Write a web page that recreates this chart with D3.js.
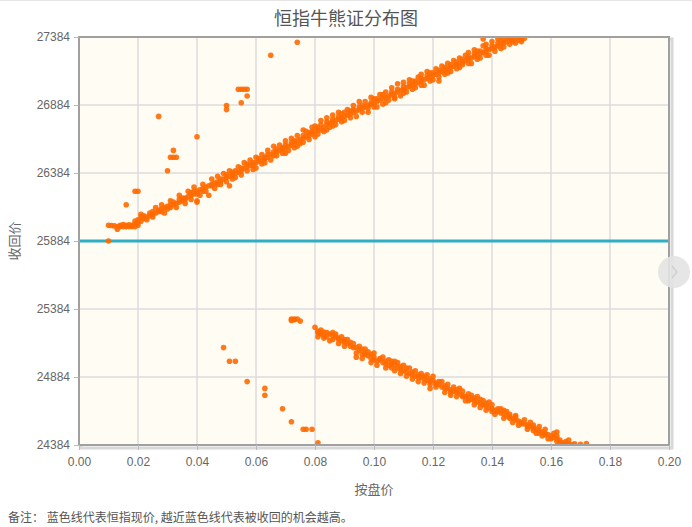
<!DOCTYPE html>
<html>
<head>
<meta charset="utf-8">
<script src="https://cdn.jsdelivr.net/npm/d3@7"></script>
<style>
  html, body { margin: 0; padding: 0; background: #ffffff; }
  svg { display: block; font-family: "Noto Sans CJK SC", "Noto Sans", sans-serif; }
</style>
</head>
<body>
<svg id="chart" width="692" height="527"></svg>
<script>
// ---- data ----
const title = "恒指牛熊证分布图";
const xLabel = "按盘价";
const yLabel = "收回价";
const note = "备注： 蓝色线代表恒指现价, 越近蓝色线代表被收回的机会越高。";
const xTicks = [0.00, 0.02, 0.04, 0.06, 0.08, 0.10, 0.12, 0.14, 0.16, 0.18, 0.20];
const yTicks = [24384, 24884, 25384, 25884, 26384, 26884, 27384];
const currentIndex = 25884;

// bull certificates [price, call level]
const bullPoints = [
  [0.010,25884],[0.010,26000],[0.011,25998],[0.016,26150],[0.019,26250],[0.020,26250],
  [0.027,26800],[0.030,26400],[0.031,26500],[0.032,26500],[0.033,26500],[0.032,26550],
  [0.040,26650],[0.050,26880],[0.050,26850],[0.054,27000],[0.055,27000],[0.056,27000],
  [0.057,27000],[0.055,26900],[0.057,26950],[0.065,27250],[0.074,27345],
  [0.013,25970],[0.013,25990],[0.014,25990],[0.014,26000],[0.015,25990],[0.016,25990],
  [0.016,26000],[0.017,25990],[0.018,25990],[0.018,26000],[0.019,25990],[0.019,26010],
  [0.012,25995],[0.015,26005],[0.017,26003],[0.019,26030],[0.020,26000],
  [0.020,26020],[0.020,26040],[0.021,26030],[0.021,26060],[0.022,26050],[0.022,26070],
  [0.023,26060],[0.024,26070],[0.024,26090],[0.025,26080],[0.025,26100],[0.026,26090],
  [0.027,26100],[0.027,26110],[0.028,26120],[0.028,26100],[0.029,26130],[0.030,26120],
  [0.030,26140],[0.031,26130],[0.031,26150],[0.032,26150],[0.032,26170],[0.033,26160],
  [0.034,26170],[0.034,26190],[0.035,26180],[0.035,26200],[0.036,26200],[0.036,26190],
  [0.037,26210],[0.038,26220],[0.038,26240],[0.039,26230],[0.039,26250],[0.040,26250],
  [0.040,26230],[0.040,26180],[0.040,26170],[0.041,26260],[0.042,26250],[0.042,26270],
  [0.043,26280],[0.044,26220],[0.044,26290],[0.045,26300],[0.045,26290],[0.046,26310],
  [0.047,26300],[0.047,26320],[0.048,26320],[0.048,26340],[0.049,26340],[0.050,26350],
  [0.050,26370],[0.051,26360],[0.051,26290],[0.052,26370],[0.052,26390],[0.052,26340],
  [0.053,26380],[0.053,26400],[0.054,26390],[0.055,26400],[0.055,26420],[0.056,26420],
  [0.057,26430],[0.057,26450],[0.058,26440],[0.059,26440],[0.059,26460],[0.060,26460],
  [0.060,26420],[0.061,26470],[0.061,26490],[0.062,26480],[0.063,26490],[0.063,26500],
  [0.064,26500],[0.064,26520],[0.065,26520],[0.066,26510],[0.066,26540],[0.067,26540],
  [0.067,26560],[0.068,26550],[0.069,26560],[0.069,26570],[0.070,26570],[0.070,26590],
  [0.070,26530],[0.071,26580],[0.072,26590],[0.072,26610],[0.073,26600],[0.073,26620],
  [0.074,26620],[0.074,26580],[0.075,26630],[0.076,26640],[0.076,26660],[0.076,26700],
  [0.077,26650],[0.078,26660],[0.078,26680],[0.079,26670],[0.079,26690],[0.080,26690],
  [0.081,26700],[0.081,26720],[0.082,26700],[0.082,26740],[0.083,26720],[0.084,26740],
  [0.084,26760],[0.084,26700],[0.085,26750],[0.086,26760],[0.086,26780],[0.086,26730],
  [0.087,26770],[0.088,26780],[0.088,26800],[0.089,26790],[0.089,26760],[0.090,26800],
  [0.090,26830],[0.091,26810],[0.092,26820],[0.092,26840],[0.093,26830],[0.093,26850],
  [0.094,26840],[0.095,26850],[0.095,26870],[0.096,26860],[0.096,26880],[0.097,26870],
  [0.098,26880],[0.098,26860],[0.099,26890],[0.099,26900],[0.100,26900],[0.100,26870],
  [0.101,26910],[0.101,26930],[0.102,26920],[0.103,26930],[0.103,26960],[0.104,26940],
  [0.104,26900],[0.105,26950],[0.106,26960],[0.106,26980],[0.107,26970],[0.107,26940],
  [0.108,26980],[0.108,27000],[0.109,26990],[0.110,27000],[0.110,27020],[0.110,26970],
  [0.111,27010],[0.112,27020],[0.112,27040],[0.113,27030],[0.113,27000],[0.114,27040],
  [0.114,27060],[0.115,27050],[0.116,27060],[0.116,27080],[0.116,27030],[0.117,27070],
  [0.118,27080],[0.118,27100],[0.119,27090],[0.119,27060],[0.120,27100],[0.120,27120],
  [0.121,27110],[0.122,27120],[0.122,27140],[0.122,27090],[0.123,27130],[0.124,27140],
  [0.124,27160],[0.125,27150],[0.125,27120],[0.126,27160],[0.126,27180],[0.127,27170],
  [0.128,27180],[0.128,27200],[0.129,27190],[0.129,27160],[0.130,27200],[0.130,27220],
  [0.131,27210],[0.132,27220],[0.132,27240],[0.132,27190],[0.133,27230],[0.134,27240],
  [0.134,27260],[0.135,27250],[0.135,27220],[0.136,27260],[0.136,27280],[0.137,27270],
  [0.137,27370],[0.138,27280],[0.138,27300],[0.138,27250],[0.139,27290],[0.140,27300],
  [0.140,27320],[0.141,27310],[0.142,27320],[0.142,27340],[0.143,27330],[0.143,27300],
  [0.144,27340],[0.144,27360],[0.145,27350],[0.146,27360],[0.146,27380],[0.147,27350],
  [0.147,27370],[0.148,27370],[0.149,27360],[0.149,27380],[0.150,27370],[0.151,27375],
  [0.021,26080],[0.023,26040],[0.025,26060],[0.026,26130],[0.028,26150],[0.029,26090],
  [0.031,26180],[0.033,26130],[0.034,26220],[0.036,26160],[0.037,26250],[0.038,26190],
  [0.039,26280],[0.041,26220],[0.042,26300],[0.043,26250],[0.045,26340],[0.046,26270],
  [0.047,26360],[0.048,26300],[0.049,26380],[0.050,26320],[0.051,26400],[0.053,26350],
  [0.054,26430],[0.055,26370],[0.056,26460],[0.057,26400],[0.058,26480],[0.059,26410],
  [0.060,26500],[0.062,26450],[0.062,26520],[0.063,26460],[0.064,26550],[0.065,26480],
  [0.066,26580],[0.067,26510],[0.068,26590],[0.069,26530],[0.070,26620],[0.071,26550],
  [0.072,26640],[0.073,26570],[0.074,26660],[0.075,26600],[0.076,26610],[0.077,26690],
  [0.078,26630],[0.079,26720],[0.080,26650],[0.080,26730],[0.081,26670],[0.082,26770],
  [0.083,26690],[0.084,26790],[0.085,26720],[0.086,26810],[0.087,26740],[0.088,26830],
  [0.089,26820],[0.090,26770],[0.091,26850],[0.092,26790],[0.093,26880],[0.094,26800],
  [0.095,26910],[0.096,26830],[0.097,26910],[0.098,26830],[0.099,26940],[0.100,26930],
  [0.101,26870],[0.102,26960],[0.103,26890],[0.104,26980],[0.105,26920],[0.106,27010],
  [0.107,26930],[0.108,27040],[0.109,26950],[0.110,27050],[0.111,26980],[0.112,27070],
  [0.113,27060],[0.114,27010],[0.115,27090],[0.116,27110],[0.117,27030],[0.118,27130],
  [0.119,27120],[0.120,27070],[0.121,27150],[0.122,27060],[0.123,27170],[0.124,27110],
  [0.125,27190],[0.126,27130],[0.127,27210],[0.128,27150],[0.129,27230],[0.130,27180],
  [0.131,27250],[0.132,27270],[0.133,27190],[0.134,27290],[0.135,27280],[0.136,27230],
  [0.137,27320],[0.138,27330],[0.139,27250],[0.140,27350],[0.141,27280],[0.142,27370],
  [0.143,27360],[0.144,27310],[0.145,27384],[0.146,27330],[0.147,27390],[0.148,27340],
  [0.149,27395],[0.150,27350]
];

// bear certificates [price, call level]
const bearPoints = [
  [0.049,25100],[0.051,25000],[0.053,25000],[0.057,24850],[0.063,24800],[0.063,24750],
  [0.069,24650],[0.072,24555],[0.076,24500],[0.077,24500],[0.079,24500],[0.081,24400],
  [0.072,25300],[0.072,25310],[0.073,25310],[0.073,25305],[0.074,25310],[0.075,25295],
  [0.080,25250],[0.081,25210],[0.081,25220],[0.081,25180],[0.082,25210],[0.082,25200],
  [0.083,25215],[0.083,25190],[0.084,25210],[0.085,25200],[0.085,25150],[0.086,25210],
  [0.086,25190],[0.087,25180],[0.088,25170],[0.088,25160],[0.089,25150],[0.090,25160],
  [0.090,25140],[0.091,25130],[0.092,25110],[0.092,25140],[0.093,25100],[0.094,25100],
  [0.094,25060],[0.095,25080],[0.096,25090],[0.096,25050],[0.097,25060],[0.097,25050],
  [0.098,25040],[0.099,25050],[0.099,25020],[0.100,25030],[0.100,25010],[0.101,25000],
  [0.102,25010],[0.102,25020],[0.103,24990],[0.104,24980],[0.104,25000],[0.105,24970],
  [0.106,24980],[0.106,24950],[0.107,24970],[0.107,25000],[0.108,24950],[0.109,24940],
  [0.109,24960],[0.110,24930],[0.111,24920],[0.111,24950],[0.112,24910],[0.113,24900],
  [0.113,24920],[0.114,24890],[0.115,24880],[0.115,24900],[0.116,24880],[0.117,24870],
  [0.117,24890],[0.118,24860],[0.119,24850],[0.119,24870],[0.119,24830],[0.120,24860],
  [0.121,24840],[0.121,24830],[0.122,24830],[0.122,24850],[0.123,24810],[0.124,24800],
  [0.124,24820],[0.125,24800],[0.126,24790],[0.126,24770],[0.127,24780],[0.128,24770],
  [0.128,24790],[0.129,24760],[0.130,24750],[0.130,24740],[0.131,24740],[0.132,24730],
  [0.132,24760],[0.132,24710],[0.133,24720],[0.134,24710],[0.134,24730],[0.135,24700],
  [0.136,24690],[0.136,24720],[0.137,24680],[0.138,24670],[0.138,24690],[0.139,24660],
  [0.140,24650],[0.140,24680],[0.140,24630],[0.141,24640],[0.142,24630],[0.142,24650],
  [0.143,24620],[0.144,24610],[0.144,24640],[0.145,24600],[0.146,24590],[0.146,24580],
  [0.147,24580],[0.148,24570],[0.148,24590],[0.149,24560],[0.150,24550],[0.150,24540],
  [0.151,24540],[0.152,24530],[0.152,24520],[0.153,24520],[0.154,24510],[0.154,24530],
  [0.154,24490],[0.155,24500],[0.156,24490],[0.156,24470],[0.157,24480],[0.158,24470],
  [0.158,24460],[0.159,24460],[0.160,24450],[0.160,24430],[0.161,24440],[0.162,24430],
  [0.162,24410],[0.162,24450],[0.163,24420],[0.164,24400],[0.164,24390],[0.165,24395],
  [0.166,24390],[0.167,24388],[0.168,24392],[0.170,24390],[0.172,24395],
  [0.082,25230],[0.083,25170],[0.084,25180],[0.086,25160],[0.087,25200],[0.088,25130],
  [0.089,25180],[0.090,25110],[0.091,25160],[0.093,25130],[0.094,25030],[0.095,25110],
  [0.096,25020],[0.097,25090],[0.098,25070],[0.099,24990],[0.100,25060],[0.101,24970],
  [0.103,25030],[0.104,24950],[0.105,25010],[0.106,25000],[0.107,24930],[0.108,24990],
  [0.109,24910],[0.110,24970],[0.111,24890],[0.112,24950],[0.113,24870],[0.114,24930],
  [0.115,24850],[0.116,24910],[0.117,24840],[0.118,24900],[0.119,24800],[0.120,24890],
  [0.121,24810],[0.123,24850],[0.124,24770],[0.125,24830],[0.126,24750],[0.127,24810],
  [0.128,24740],[0.129,24800],[0.130,24780],[0.131,24710],[0.133,24750],[0.134,24680],
  [0.135,24740],[0.136,24660],[0.137,24710],[0.138,24640],[0.139,24700],[0.141,24610],
  [0.143,24650],[0.144,24580],[0.145,24630],[0.146,24610],[0.147,24550],[0.148,24600],
  [0.149,24530],[0.151,24570],[0.152,24500],[0.153,24550],[0.155,24470],[0.156,24520],
  [0.157,24450],[0.158,24500],[0.159,24430],[0.161,24470],[0.162,24480],[0.163,24400],
  [0.165,24410],[0.166,24420]
];

// ---- drawing ----
const svg = d3.select("#chart");
const W = 692, H = 527;
const m = { left: 79, right: 669, top: 37, bottom: 445 };

const x = d3.scaleLinear().domain([0, 0.2]).range([m.left, m.right]);
const y = d3.scaleLinear().domain([24384, 27384]).range([m.bottom, m.top]);

// top hairline
svg.append("line").attr("x1", 0).attr("x2", W).attr("y1", 0.5).attr("y2", 0.5)
  .attr("stroke", "#e6e6e6").attr("stroke-width", 1);

// title
svg.append("text").attr("x", 346).attr("y", 25).attr("text-anchor", "middle")
  .attr("font-size", 18).attr("fill", "#555").text(title);

// frame shadow
svg.append("rect").attr("x", m.left + 2).attr("y", m.top + 2)
  .attr("width", m.right - m.left + 1).attr("height", m.bottom - m.top + 1)
  .attr("fill", "none").attr("stroke", "#d8d8d8").attr("stroke-width", 3);

// plot background
svg.append("rect").attr("x", m.left).attr("y", m.top)
  .attr("width", m.right - m.left).attr("height", m.bottom - m.top)
  .attr("fill", "#fffcf4");

// grid
const grid = svg.append("g").attr("stroke", "#dcdcdc").attr("stroke-width", 1.5);
grid.selectAll("line.gx").data(xTicks.slice(1, -1)).join("line")
  .attr("x1", d => x(d)).attr("x2", d => x(d)).attr("y1", m.top).attr("y2", m.bottom);
grid.selectAll("line.gy").data(yTicks.slice(1, -1)).join("line")
  .attr("x1", m.left).attr("x2", m.right).attr("y1", d => y(d)).attr("y2", d => y(d));

// clip
svg.append("clipPath").attr("id", "clip").append("rect")
  .attr("x", m.left).attr("y", m.top).attr("width", m.right - m.left).attr("height", m.bottom - m.top);

// current index line
svg.append("line").attr("clip-path", "url(#clip)")
  .attr("x1", m.left).attr("x2", m.right)
  .attr("y1", y(currentIndex)).attr("y2", y(currentIndex))
  .attr("stroke", "#2eaec4").attr("stroke-width", 3);

// points
const pts = svg.append("g").attr("clip-path", "url(#clip)");
pts.selectAll("circle.bull").data(bullPoints).join("circle")
  .attr("class", "bull")
  .attr("cx", d => x(d[0])).attr("cy", d => y(d[1])).attr("r", 2.8)
  .attr("fill", "#ff6a00").attr("fill-opacity", 0.9);
pts.selectAll("circle.bear").data(bearPoints).join("circle")
  .attr("class", "bear")
  .attr("cx", d => x(d[0])).attr("cy", d => y(d[1])).attr("r", 2.8)
  .attr("fill", "#ff6a00").attr("fill-opacity", 0.9);

// frame
svg.append("rect").attr("x", m.left).attr("y", m.top)
  .attr("width", m.right - m.left).attr("height", m.bottom - m.top)
  .attr("fill", "none").attr("stroke", "#a0a0a0").attr("stroke-width", 2);

// axes
const xAxis = svg.append("g").attr("transform", `translate(0,${m.bottom})`)
  .call(d3.axisBottom(x).tickValues(xTicks).tickFormat(d3.format(".2f")).tickSize(5).tickPadding(7));
const yAxis = svg.append("g").attr("transform", `translate(${m.left},0)`)
  .call(d3.axisLeft(y).tickValues(yTicks).tickFormat(d => String(d)).tickSize(5).tickPadding(4));
[xAxis, yAxis].forEach(a => {
  a.select(".domain").remove();
  a.selectAll(".tick line").attr("stroke", "#bbb");
  a.selectAll(".tick text").attr("fill", "#666").attr("font-size", 12)
    .attr("font-family", "'Liberation Sans', Arial, sans-serif");
});

// axis labels
svg.append("text").attr("x", (m.left + m.right) / 2).attr("y", 494).attr("text-anchor", "middle")
  .attr("font-size", 13).attr("fill", "#666").text(xLabel);
svg.append("text").attr("transform", `translate(19,${y(currentIndex)}) rotate(-90)`)
  .attr("text-anchor", "middle").attr("font-size", 13).attr("fill", "#666").text(yLabel);

// note
svg.append("text").attr("x", 8).attr("y", 522).attr("font-size", 12).attr("fill", "#555")
  .attr("xml:space", "preserve").style("white-space", "pre").text(note);

// right navigation button
const btn = svg.append("g").attr("transform", "translate(674,272)");
btn.append("circle").attr("r", 16).attr("fill", "#e3e3e3").attr("fill-opacity", 0.9);
btn.append("path").attr("d", "M-2,-6 L3,0 L-2,6").attr("fill", "none")
  .attr("stroke", "#cfcfcf").attr("stroke-width", 1.5);
</script>
</body>
</html>
